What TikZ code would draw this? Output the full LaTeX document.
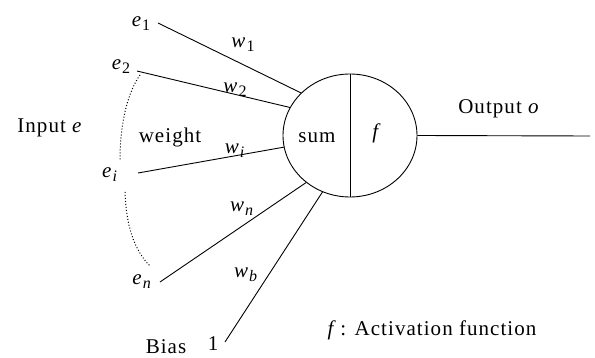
\documentclass[tikz,border=0pt]{standalone}
\usepackage{fontspec}
\setmainfont{Liberation Serif}
\usetikzlibrary{shapes.geometric}
\newcommand\lab[2]{\textit{#1}\raisebox{-4pt}{\fontsize{16}{16}\selectfont #2}}
\begin{document}
\begin{tikzpicture}[x=1pt,y=-1pt,line width=0.9pt,
  txt/.style={font=\rmfamily\fontsize{21}{25}\selectfont\addfontfeatures{LetterSpace=5}, inner sep=0},
  link/.style={line width=0.9pt},
  arcdots/.style={dotted, line width=1pt}]
\useasboundingbox (0,0) rectangle (595,358);
% neuron
\node[draw, ellipse, minimum width=134pt, minimum height=123pt, inner sep=0] (n) at (350,135.5) {};
\draw (n.north) -- (n.south);
\node[txt] (sum) at (317,138) {sum};
\node[txt] (fn) at (377,133) {\textit{f}};
% output
\coordinate (out) at (590,136);
\draw[link] (n.east) -- (out);
\node[txt] (outlab) at (499,109) {Output \textit{o}};
% inputs
\coordinate (s1) at (158,23);
\coordinate (s2) at (137,71);
\coordinate (si) at (138,173);
\coordinate (sn) at (160,282);
\coordinate (sb) at (225,342);
\draw[link] (s1) -- (n.139.6);
\draw[link] (s2) -- (n.155);
\draw[link] (si) -- (n.190);
\draw[link] (sn) -- (n.227.7);
\draw[link] (sb) -- (n.244.8);
% labels
\node[txt] (e1) at (141,24) {\lab{e}{1}};
\node[txt] (e2) at (121,67) {\lab{e}{2}};
\node[txt] (ei) at (110,175) {\lab{e}{\textit{i}}};
\node[txt] (en) at (142,282) {\lab{e}{\textit{n}}};
\node[txt] (w1) at (243,45) {\lab{w}{1}};
\node[txt] (w2) at (235,90) {\lab{w}{2}};
\node[txt] (wi) at (235,151) {\lab{w}{\textit{i}}};
\node[txt] (wn) at (242,209) {\lab{w}{\textit{n}}};
\node[txt] (wb) at (246,275) {\lab{w}{\textit{b}}};
\node[txt] (one) at (213,344) {1};
\node[txt, anchor=base] (bias) at (166,353) {Bias};
\node[txt] (input) at (50,128) {Input \textit{e}};
\node[txt] (weight) at (170,137) {weight};
\node[txt] (act) at (432,330) {\textit{f}\,: Activation function};
% dotted arcs
\draw[arcdots] (140,75) .. controls (126,95) and (120,128) .. (120,160);
\draw[arcdots] (125,192) .. controls (126,225) and (134,250) .. (150,266);
\end{tikzpicture}
\end{document}
